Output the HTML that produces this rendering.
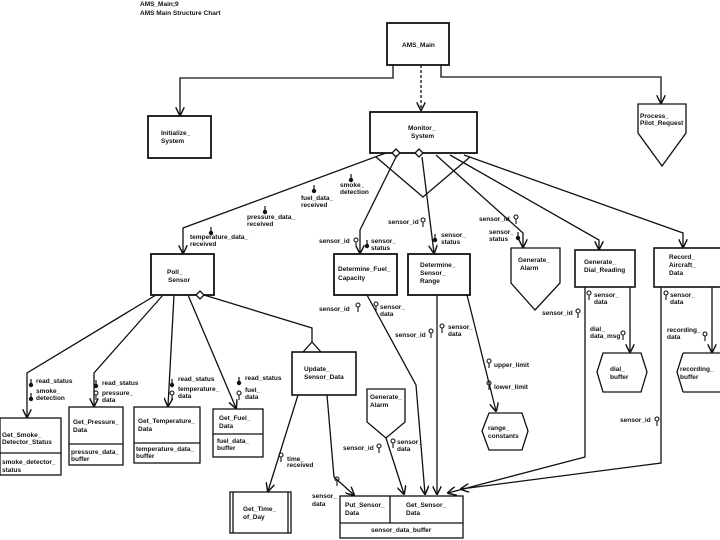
<!DOCTYPE html>
<html><head><meta charset="utf-8"><style>
html,body{margin:0;padding:0;background:#fff;}
svg{display:block;}
text{font-family:"Liberation Sans",sans-serif;font-size:6.5px;font-weight:bold;fill:#111;}
</style></head><body>
<svg width="720" height="540" viewBox="0 0 720 540" xmlns="http://www.w3.org/2000/svg">
<defs>
<marker id="a" viewBox="0 0 10 10" refX="9" refY="5" markerWidth="7" markerHeight="7" orient="auto-start-reverse">
<path d="M0,0 L10,5 L0,10" fill="none" stroke="#111" stroke-width="1.6"/></marker>
<g id="dc"><circle cx="0" cy="0" r="2" fill="none" stroke="#111" stroke-width="1.1"/><line x1="0" y1="2" x2="0" y2="7" stroke="#111" stroke-width="1.1"/></g>
<g id="cf"><circle cx="0" cy="0" r="2.2" fill="#111"/><line x1="0" y1="-2" x2="0" y2="-6" stroke="#111" stroke-width="1.2"/></g>
</defs>
<rect x="0" y="0" width="720" height="540" fill="#fff"/>
<text x="140" y="6">AMS_Main;9</text>
<text x="140" y="15">AMS Main Structure Chart</text>

<g fill="none" stroke="#111" stroke-width="1.3">
<!-- top boxes -->
<rect x="387" y="23" width="62" height="42" stroke-width="1.8"/>
<rect x="148" y="116" width="63" height="42" stroke-width="1.8"/>
<path d="M638,104 H686 V133 L662,166 L638,133 Z"/>
<rect x="370" y="112" width="107" height="41" stroke-width="1.8"/>
<!-- top connectors -->
<path d="M393,65 V78 H180 V115" marker-end="url(#a)"/>
<path d="M441,65 V77 H661 V103" marker-end="url(#a)"/>
<path d="M421,65 V110" stroke-dasharray="3,2" marker-end="url(#a)"/>
<!-- diamonds & triangle -->
<path d="M396,149 L400,153 L396,157 L392,153 Z" fill="#fff"/>
<path d="M419,149 L423,153 L419,157 L415,153 Z" fill="#fff"/>
<path d="M376,157 L423,197 L470,157"/>
<!-- monitor children -->
<path d="M386,153 L183,228 V253" marker-end="url(#a)"/>
<path d="M397,155 L360,230 V253" marker-end="url(#a)"/>
<path d="M422,157 L434,253" marker-end="url(#a)"/>
<path d="M436,155 L523,233 V247" marker-end="url(#a)"/>
<path d="M450,155 L599,240 V249" marker-end="url(#a)"/>
<path d="M464,155 L683,233 V247" marker-end="url(#a)"/>
<!-- second level boxes -->
<rect x="151" y="254" width="63" height="41" stroke-width="1.8"/>
<rect x="334" y="254" width="63" height="41" stroke-width="1.8"/>
<rect x="408" y="254" width="62" height="41" stroke-width="1.8"/>
<path d="M511,248 H560 V283 L535,310 L511,283 Z"/>
<rect x="575" y="250" width="60" height="37" stroke-width="1.6"/>
<rect x="654" y="248" width="70" height="39" stroke-width="1.6"/>
<!-- poll children -->
<path d="M156,295 L27,373 V417" marker-end="url(#a)"/>
<path d="M163,295 L94,373 V406" marker-end="url(#a)"/>
<path d="M174,295 L168,406" marker-end="url(#a)"/>
<path d="M188,295 L236,408" marker-end="url(#a)"/>
<path d="M200,291 L204,295 L200,299 L196,295 Z" fill="#fff"/>
<path d="M204,295 L312,328 V342"/>
<path d="M303,352 L312,342 L321,352"/>
<rect x="0" y="418" width="61" height="57"/><line x1="0" y1="453" x2="61" y2="453"/>
<rect x="69" y="407" width="54" height="58"/><line x1="69" y1="444" x2="123" y2="444"/>
<rect x="134" y="407" width="66" height="56"/><line x1="134" y1="443" x2="200" y2="443"/>
<rect x="213" y="409" width="50" height="48"/><line x1="213" y1="434" x2="263" y2="434"/>
<rect x="292" y="352" width="64" height="43" stroke-width="1.6"/>
<!-- update children -->
<path d="M298,395 L268,491" marker-end="url(#a)"/>
<rect x="230" y="492" width="61" height="41"/><line x1="233" y1="492" x2="233" y2="533"/><line x1="288" y1="492" x2="288" y2="533"/>
<path d="M327,395 L334,477 L354,495" marker-end="url(#a)"/>
<rect x="340" y="496" width="123" height="42"/><line x1="340" y1="523" x2="463" y2="523"/><line x1="390" y1="496" x2="390" y2="523"/>
<path d="M367,389 H405 V422 L386,438 L367,422 Z"/>
<path d="M386,438 L404,494" marker-end="url(#a)"/>
<path d="M367,295 L416,385 L425,494" marker-end="url(#a)"/>
<path d="M437,295 V494" marker-end="url(#a)"/>
<path d="M467,295 L496,411" marker-end="url(#a)"/>
<path d="M489,413 H522 L528,431 L522,450 H489 L482,431 Z"/>
<path d="M585,287 V457 L448,493" marker-end="url(#a)"/>
<path d="M661,287 V463 L461,489" marker-end="url(#a)"/>
<path d="M630,287 V352" marker-end="url(#a)"/>
<path d="M603,353 H641 L647,372 L641,392 H603 L597,372 Z"/>
<path d="M712,287 V352" marker-end="url(#a)"/>
<path d="M683,353 H720 M683,392 H720 M683,353 L677,372 L683,392"/>
</g>

<!-- couples -->
<use href="#cf" x="351" y="180"/><use href="#cf" x="314" y="191"/><use href="#cf" x="265" y="212"/><use href="#cf" x="211" y="233"/>
<use href="#dc" x="356" y="240"/><use href="#cf" x="367" y="246"/>
<use href="#dc" x="423" y="220"/><use href="#cf" x="435" y="240"/>
<use href="#dc" x="516" y="217"/><use href="#cf" x="518" y="238"/>
<use href="#cf" x="31" y="385"/><use href="#cf" x="31" y="399"/>
<use href="#cf" x="96" y="386"/><use href="#dc" x="96" y="393"/>
<use href="#cf" x="172" y="385"/><use href="#dc" x="172" y="393"/>
<use href="#cf" x="239" y="383"/><use href="#dc" x="239" y="393"/>
<use href="#dc" x="281" y="455"/><use href="#dc" x="337" y="479"/>
<use href="#dc" x="358" y="305"/><use href="#dc" x="376" y="304"/>
<use href="#dc" x="431" y="331"/><use href="#dc" x="442" y="326"/>
<use href="#dc" x="489" y="361"/><use href="#dc" x="489" y="383"/>
<use href="#dc" x="379" y="446"/><use href="#dc" x="393" y="441"/>
<use href="#dc" x="578" y="311"/><use href="#dc" x="589" y="293"/>
<use href="#dc" x="623" y="333"/><use href="#dc" x="666" y="293"/>
<use href="#dc" x="705" y="334"/><use href="#dc" x="657" y="419"/>

<!-- labels -->
<text x="402" y="47">AMS_Main</text>
<text x="161" y="135">Initialize_</text><text x="161" y="143">System</text>
<text x="640" y="118">Process_</text><text x="640" y="125">Pilot_Request</text>
<text x="408" y="130">Monitor_</text><text x="411" y="138">System</text>
<text x="340" y="187">smoke_</text><text x="340" y="194">detection</text>
<text x="301" y="200">fuel_data_</text><text x="301" y="207">received</text>
<text x="247" y="219">pressure_data_</text><text x="247" y="226">received</text>
<text x="190" y="239">temperature_data_</text><text x="190" y="246">received</text>
<text x="319" y="243">sensor_id</text><text x="371" y="243">sensor_</text><text x="371" y="250">status</text>
<text x="388" y="224">sensor_id</text><text x="441" y="237">sensor_</text><text x="441" y="244">status</text>
<text x="479" y="221">sensor_id</text><text x="489" y="234">sensor_</text><text x="489" y="241">status</text>
<text x="167" y="274">Poll_</text><text x="168" y="282">Sensor</text>
<text x="338" y="271">Determine_Fuel_</text><text x="338" y="280">Capacity</text>
<text x="420" y="267">Determine_</text><text x="420" y="275">Sensor_</text><text x="420" y="283">Range</text>
<text x="518" y="262">Generate_</text><text x="520" y="270">Alarm</text>
<text x="584" y="264">Generate_</text><text x="584" y="272">Dial_Reading</text>
<text x="669" y="259">Record_</text><text x="669" y="267">Aircraft_</text><text x="669" y="275">Data</text>
<text x="36" y="383">read_status</text><text x="36" y="393">smoke_</text><text x="36" y="400">detection</text>
<text x="102" y="385">read_status</text><text x="102" y="395">pressure_</text><text x="102" y="402">data</text>
<text x="178" y="381">read_status</text><text x="178" y="391">temperature_</text><text x="178" y="398">data</text>
<text x="245" y="380">read_status</text><text x="245" y="392">fuel_</text><text x="245" y="399">data</text>
<text x="2" y="437">Get_Smoke_</text><text x="2" y="444">Detector_Status</text>
<text x="2" y="464">smoke_detector_</text><text x="2" y="472">status</text>
<text x="73" y="424">Get_Pressure_</text><text x="73" y="432">Data</text>
<text x="71" y="454">pressure_data_</text><text x="71" y="461">buffer</text>
<text x="138" y="423">Get_Temperature_</text><text x="138" y="431">Data</text>
<text x="136" y="451">temperature_data_</text><text x="136" y="458">buffer</text>
<text x="219" y="420">Get_Fuel_</text><text x="219" y="428">Data</text>
<text x="217" y="443">fuel_data_</text><text x="217" y="450">buffer</text>
<text x="304" y="371">Update_</text><text x="304" y="379">Sensor_Data</text>
<text x="287" y="461">time_</text><text x="287" y="467">received</text>
<text x="243" y="511">Get_Time_</text><text x="243" y="519">of_Day</text>
<text x="312" y="498">sensor_</text><text x="312" y="506">data</text>
<text x="345" y="507">Put_Sensor_</text><text x="345" y="515">Data</text>
<text x="406" y="507">Get_Sensor_</text><text x="406" y="515">Data</text>
<text x="371" y="532">sensor_data_buffer</text>
<text x="370" y="399">Generate_</text><text x="370" y="407">Alarm</text>
<text x="343" y="450">sensor_id</text><text x="397" y="444">sensor_</text><text x="397" y="451">data</text>
<text x="319" y="311">sensor_id</text><text x="380" y="309">sensor_</text><text x="380" y="316">data</text>
<text x="395" y="337">sensor_id</text><text x="448" y="329">sensor_</text><text x="448" y="336">data</text>
<text x="494" y="367">upper_limit</text><text x="494" y="389">lower_limit</text>
<text x="488" y="430">range_</text><text x="488" y="438">constants</text>
<text x="542" y="315">sensor_id</text>
<text x="594" y="297">sensor_</text><text x="594" y="304">data</text>
<text x="590" y="331">dial_</text><text x="590" y="338">data_msg</text>
<text x="610" y="371">dial_</text><text x="610" y="379">buffer</text>
<text x="670" y="297">sensor_</text><text x="670" y="304">data</text>
<text x="667" y="332">recording_</text><text x="667" y="339">data</text>
<text x="680" y="371">recording_</text><text x="680" y="379">buffer</text>
<text x="620" y="422">sensor_id</text>
</svg>
</body></html>
